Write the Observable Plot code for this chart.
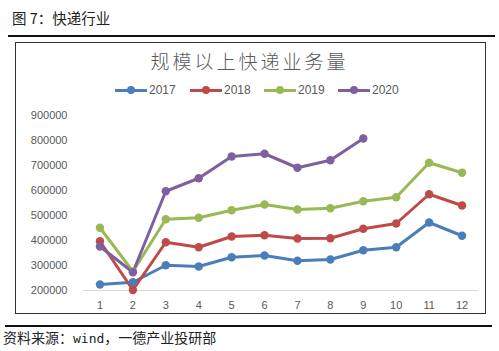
<!DOCTYPE html>
<html><head><meta charset="utf-8">
<script src="https://cdn.jsdelivr.net/npm/d3@7"></script>
<script src="https://cdn.jsdelivr.net/npm/@observablehq/plot@0.6"></script>
<style>
body{margin:0;width:499px;height:351px;background:#fff;position:relative;overflow:hidden;font-family:"Noto Sans CJK SC",sans-serif;}
.abs{position:absolute;}
#hdr{left:12px;top:7px;font-size:14.5px;color:#222;}
#rule1{left:8px;top:35px;width:487px;height:2px;background:#111;}
#box{left:15px;top:42px;width:471px;height:272px;border:1.5px solid #333;box-sizing:border-box;}
#ttl{left:0;width:499px;top:47px;text-align:center;font-size:19px;letter-spacing:3px;color:#595959;font-weight:300;}
#rule2{left:5px;top:325px;width:487px;height:1.5px;background:#111;}
#cap{left:3px;top:327px;font-size:14px;color:#222;}
#cap .w{font-family:"DejaVu Sans Mono",monospace;font-size:13px;}
.leg{top:83px;font-family:"Liberation Sans",Arial,sans-serif;font-size:12px;color:#595959;display:flex;align-items:center;}
.leg i{display:inline-block;width:32px;height:3px;position:relative;margin-right:2px;}
.leg i b{position:absolute;left:12px;top:-3px;width:8px;height:8px;border-radius:50%;}
#chart{left:0;top:100px;width:499px;height:220px;}
#chart svg{max-width:none;}
</style></head>
<body>
<div id="hdr" class="abs">图 7：快递行业</div>
<div id="rule1" class="abs"></div>
<div id="box" class="abs"></div>
<div id="ttl" class="abs">规模以上快递业务量</div>
<div id="legend"></div>
<div id="chart" class="abs"></div>
<div id="rule2" class="abs"></div>
<div id="cap" class="abs">资料来源：<span class="w">wind</span>，一德产业投研部</div>
<script>
const months = [1,2,3,4,5,6,7,8,9,10,11,12];
const seriesNames = ["2017","2018","2019","2020"];
const colors = ["#4A7EBB","#BE4B48","#98B954","#7D60A0"];
const v2017 = [224000,233000,301000,296000,333000,340000,319000,324000,361000,373000,472000,419000];
const v2018 = [397000,202000,393000,373000,416000,421000,408000,409000,447000,468000,585000,540000];
const v2019 = [451000,276000,485000,491000,521000,544000,524000,529000,557000,573000,711000,671000];
const v2020 = [376000,273000,597000,649000,736000,747000,691000,721000,808000];
const yTicks = [200000,300000,400000,500000,600000,700000,800000,900000];

const all = [v2017,v2018,v2019,v2020];
const data = [];
all.forEach((arr,i)=>arr.forEach((v,j)=>data.push({m:months[j],v,s:seriesNames[i]})));

// legend
const legX = [115,190,264,338];
const lg = document.getElementById("legend");
seriesNames.forEach((s,i)=>{
  const d = document.createElement("div");
  d.className="abs leg"; d.style.left=legX[i]+"px";
  d.innerHTML=`<i style="background:${colors[i]}"><b style="background:${colors[i]}"></b></i>${s}`;
  lg.appendChild(d);
});

const plot = Plot.plot({
  width:499, height:220,
  marginLeft:83, marginRight:21, marginTop:15, marginBottom:30,
  style:{fontFamily:"Liberation Sans, Arial, sans-serif", fontSize:"11px", color:"#595959", background:"transparent", maxWidth:"none"},
  x:{type:"point", domain:months, padding:0.5, round:false, label:null},
  y:{domain:[200000,900000], label:null},
  color:{domain:seriesNames, range:colors},
  marks:[
    Plot.ruleY([200000],{stroke:"#d9d9d9", strokeWidth:1}),
    Plot.axisY({ticks:yTicks, tickSize:0, tickPadding:16, tickFormat:d=>String(d), fill:"#595959"}),
    Plot.axisX({tickSize:0, tickPadding:11, fill:"#595959"}),
    Plot.line(data,{x:"m", y:"v", z:"s", stroke:"s", strokeWidth:3, curve:"linear"}),
    Plot.dot(data,{x:"m", y:"v", fill:"s", r:4.2})
  ]
});
document.getElementById("chart").appendChild(plot);
</script>
</body></html>
